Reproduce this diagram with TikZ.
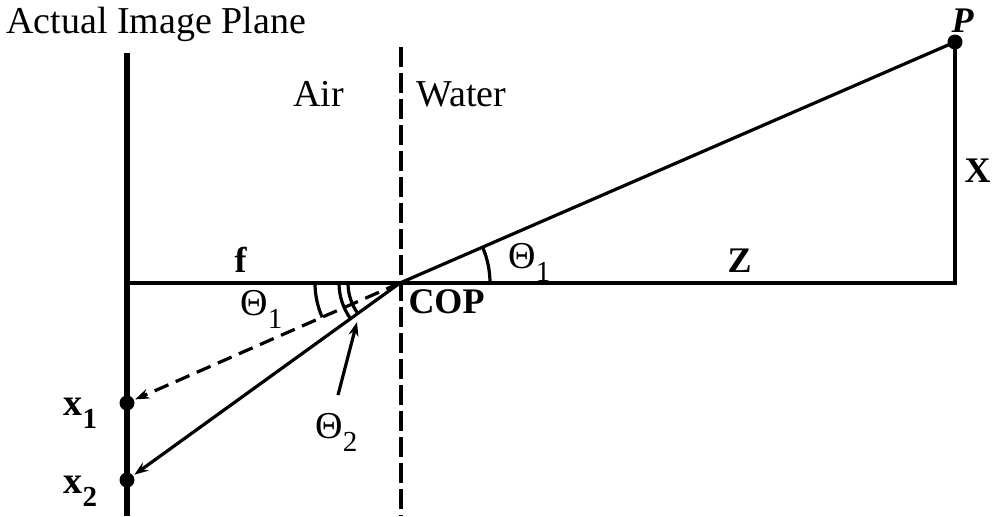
\documentclass[tikz,border=0pt]{standalone}
\usepackage{fontspec}
\setmainfont{Liberation Serif}
\usetikzlibrary{arrows.meta, positioning, calc}
\tikzset{
  every picture/.style={line width=1.5pt},
  ray/.style={draw=black, line width=1.6pt},
  arrow/.style={-{Stealth[length=7pt, width=5pt]}, line width=1.6pt},
  dot/.style={circle, fill=black, inner sep=0pt, minimum size=7.5pt},
  txt/.style={font=\fontsize{19}{22}\selectfont, inner sep=0pt, anchor=base west},
  bold/.style={font=\fontsize{18}{21}\selectfont\bfseries, inner sep=0pt, anchor=base west},
}
\newcommand{\lowsub}[1]{\raisebox{-0.36em}{\fontsize{14.5}{16}\selectfont #1}}
\begin{document}
\begin{tikzpicture}[x=0.5pt, y=0.5pt,
  plane/.style={draw=black, line width=2.6pt},
  iface/.style={draw=black, line width=1.8pt, dash pattern=on 10pt off 3pt},
  dashray/.style={line width=1.6pt, dash pattern=on 7.5pt off 4pt}]
  \useasboundingbox (0,0) rectangle (992,516);
  % ---------- points ----------
  \coordinate (cop) at (400,233);
  \coordinate (axisstart) at (127,233);
  \coordinate (foot) at (955,233);
  \coordinate (planetop) at (127,463);
  \coordinate (planebot) at (127,0);
  \coordinate (ifacetop) at (401,469);
  \coordinate (ifacebot) at (401,0);
  \node[dot] (P) at (955,474) {};
  \node[dot] (x1) at (127,113) {};
  \node[dot] (x2) at (127,36) {};
  % ---------- image plane, interface, axis ----------
  \draw[plane] (planetop) -- (planebot);
  \draw[iface] (ifacetop) -- (ifacebot);
  \draw[ray] (axisstart) -- (foot) -- (P.center);
  % ---------- rays ----------
  \draw[ray] (P.center) -- (cop);
  \draw[arrow] (cop) -- (x2);
  \draw[arrow, dashray] (cop) -- (x1);
  % ---------- angles ----------
  \draw[ray] ($(cop)+(90,0)$) arc[start angle=0, end angle=23.5, radius=90];
  \draw[ray] ($(cop)+(-85,0)$) arc[start angle=180, end angle=203.8, radius=85];
  \foreach \r in {52,61}
    \draw[ray] ($(cop)+(-\r,0)$) arc[start angle=180, end angle=215.8, radius=\r];
  \node[txt] (th2) at (314,78) {Θ\lowsub{2}};
  \coordinate (th2tip) at (357,194);
  \draw[arrow] (338,121) -- (th2tip);
  % ---------- labels ----------
  \node[txt] (title) at (5,483) {Actual Image Plane};
  \node[txt] (air) at (292,410) {Air};
  \node[txt] (water) at (415,410) {Water};
  \node[bold] (flab) at (233,244) {f};
  \node[bold] (zlab) at (726,244) {Z};
  \node[bold] (xlab) at (963,334) {X};
  \node[txt, font=\fontsize{18}{21}\selectfont\bfseries\itshape] (plab) at (950,484) {P};
  \node[bold] (coplab) at (407,203) {COP};
  \node[txt] (th1l) at (239,201) {Θ\lowsub{1}};
  \node[txt] (th1u) at (507,248) {Θ\lowsub{1}};
  \node[bold, font=\fontsize{19}{22}\selectfont\bfseries] (x1lab) at (62,101) {x\lowsub{\bfseries 1}};
  \node[bold, font=\fontsize{19}{22}\selectfont\bfseries] (x2lab) at (62,23) {x\lowsub{\bfseries 2}};
\end{tikzpicture}
\end{document}
